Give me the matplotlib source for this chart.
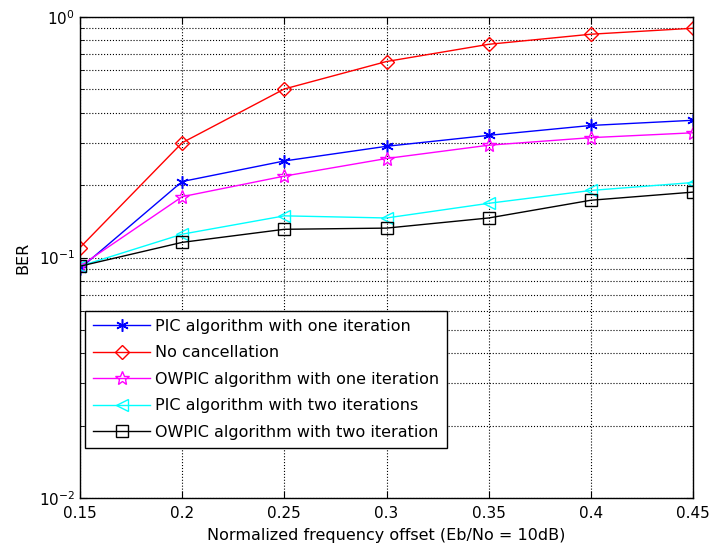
import matplotlib
matplotlib.use("Agg")
import matplotlib.pyplot as plt
from matplotlib.ticker import LogLocator, NullFormatter

plt.rcParams['font.family'] = ['DejaVu Sans']
plt.rcParams['mathtext.fontset'] = 'dejavusans'

x = [0.15, 0.2, 0.25, 0.3, 0.35, 0.4, 0.45]
pic_one = [0.090, 0.207, 0.252, 0.290, 0.322, 0.354, 0.372]
no_cancel = [0.110, 0.300, 0.502, 0.653, 0.770, 0.848, 0.898]
owpic_one = [0.092, 0.179, 0.218, 0.258, 0.293, 0.315, 0.330]
pic_two = [0.092, 0.125, 0.149, 0.146, 0.168, 0.190, 0.205]
owpic_two = [0.092, 0.1156, 0.131, 0.1325, 0.146, 0.173, 0.187]

labels = ["PIC algorithm with one iteration", "No cancellation",
          "OWPIC algorithm with one iteration", "PIC algorithm with two iterations",
          "OWPIC algorithm with two iteration"]
xticks = [0.15, 0.2, 0.25, 0.3, 0.35, 0.4, 0.45]
xticklabels = ["0.15", "0.2", "0.25", "0.3", "0.35", "0.4", "0.45"]

fig = plt.figure(figsize=(7.13, 5.53), dpi=100)
ax = fig.add_axes([80/713, 55/553, 613/713, 481/553])

ax.plot(x, pic_one, color='#0000ff', marker=(6, 2, 0), ms=9, mew=1.1, lw=1, label=labels[0])
ax.plot(x, no_cancel, color='#ff0000', marker='D', ms=7.5, mfc='none', lw=1, label=labels[1])
ax.plot(x, owpic_one, color='#ff00ff', marker='*', ms=10, mfc='none', lw=1, label=labels[2])
ax.plot(x, pic_two, color='#00ffff', marker='<', ms=8.5, mfc='none', lw=1, label=labels[3])
ax.plot(x, owpic_two, color='#000000', marker='s', ms=8.5, mfc='none', lw=1, label=labels[4])

ax.set_yscale('log')
ax.set_ylim(1e-2, 1)
ax.set_xlim(0.15, 0.45)
ax.set_xticks(xticks)
ax.set_xticklabels(xticklabels)
ax.yaxis.set_major_locator(LogLocator(base=10, numticks=10))
ax.yaxis.set_minor_locator(LogLocator(base=10, subs=range(2, 10), numticks=20))
ax.yaxis.set_minor_formatter(NullFormatter())

ax.grid(True, which='major', color='black', linestyle=':', linewidth=0.8)
ax.grid(True, which='minor', axis='y', color='black', linestyle=':', linewidth=0.8)
ax.tick_params(which='both', direction='in', top=True, right=True, labelsize=11)
ax.tick_params(which='major', length=5)
ax.tick_params(which='minor', length=3)
ax.tick_params(axis='x', pad=6)
for s in ax.spines.values():
    s.set_linewidth(1.0)

ax.set_xlabel("Normalized frequency offset (Eb/No = 10dB)", fontsize=11.5, labelpad=5)
ax.set_ylabel("BER", fontsize=11.5, labelpad=6)

leg = ax.legend(loc='upper left', bbox_to_anchor=(5/613, 187/481), borderaxespad=0,
                fancybox=False, edgecolor='black', framealpha=1, fontsize=11.5,
                handlelength=3.6, handletextpad=0.3, labelspacing=0.72, borderpad=0.5)
leg.get_frame().set_linewidth(1.0)

fig.savefig("out.png", dpi=100)
